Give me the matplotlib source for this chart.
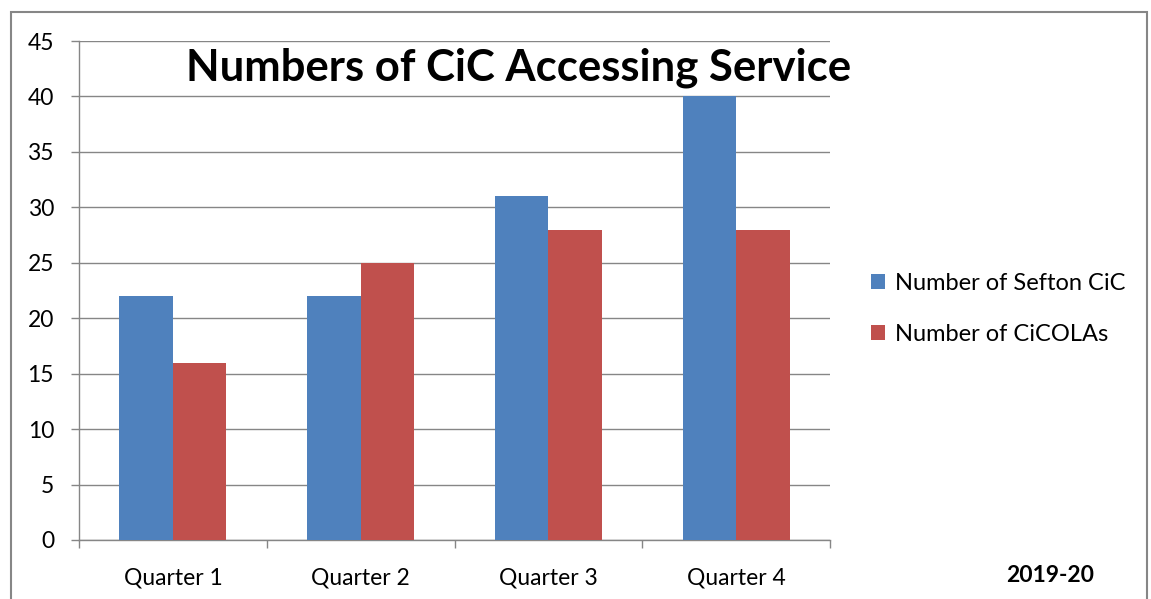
import matplotlib
matplotlib.use("Agg")
import matplotlib.pyplot as plt
import matplotlib.patches as mpatches
import numpy as np

categories = ["Quarter 1", "Quarter 2", "Quarter 3", "Quarter 4"]
sefton = [22, 22, 31, 40]
cicolas = [16, 25, 28, 28]
series_names = ["Number of Sefton CiC", "Number of CiCOLAs"]
yticks = [0, 5, 10, 15, 20, 25, 30, 35, 40, 45]

plt.rcParams['font.family'] = ['Lato', 'DejaVu Sans']

W, H = 1151, 599
fig = plt.figure(figsize=(W / 100, H / 100), dpi=100)
ax = fig.add_axes([79 / W, 1 - 540 / H, (830 - 79) / W, (540 - 41) / H])

x = np.arange(len(categories))
bw = 0.285
blue = "#4F81BD"
red = "#C0504D"
ax.bar(x - bw / 2, sefton, bw, color=blue, label=series_names[0], zorder=3)
ax.bar(x + bw / 2, cicolas, bw, color=red, label=series_names[1], zorder=3)

ax.set_xlim(-0.5, len(categories) - 0.5)
ax.set_ylim(0, 45)
ax.set_yticks(yticks)
ax.set_yticklabels([str(v) for v in yticks], fontsize=16.5)
ax.set_xticks(x)
ax.set_xticklabels(categories, fontsize=16.5)
ax.tick_params(axis='x', length=0, pad=20)
ax.set_xticks(np.arange(len(categories) + 1) - 0.5, minor=True)
ax.tick_params(axis='x', which='minor', length=6, color="#868686", width=1)
ax.tick_params(axis='y', length=6, color="#868686", width=1, pad=12)
ax.yaxis.grid(True, color="#868686", linewidth=1, zorder=0)
for s in ["top", "right"]:
    ax.spines[s].set_visible(False)
for s in ["left", "bottom"]:
    ax.spines[s].set_color("#868686")
    ax.spines[s].set_linewidth(1)

fig.text(519 / W, 1 - 68 / H, "Numbers of CiC Accessing Service", fontsize=31.4,
         fontweight='bold', ha='center', va='center')

leg = fig.legend(loc='upper left', bbox_to_anchor=(854 / W, 1 - 256 / H),
                 frameon=False, fontsize=17, handlelength=0.6, handleheight=0.6,
                 handletextpad=0.45, labelspacing=1.3, borderpad=0.2)

fig.text(1050 / W, 1 - 576 / H, "2019-20", fontsize=16.5, fontweight='bold',
         ha='center', va='center')

border = mpatches.Rectangle((11 / W, -0.05), (1147 - 11) / W, 1.05 - 12 / H,
                            transform=fig.transFigure, fill=False,
                            edgecolor="#868686", linewidth=1.5, clip_on=False)
fig.patches.append(border)

fig.savefig("out.png", dpi=100)
